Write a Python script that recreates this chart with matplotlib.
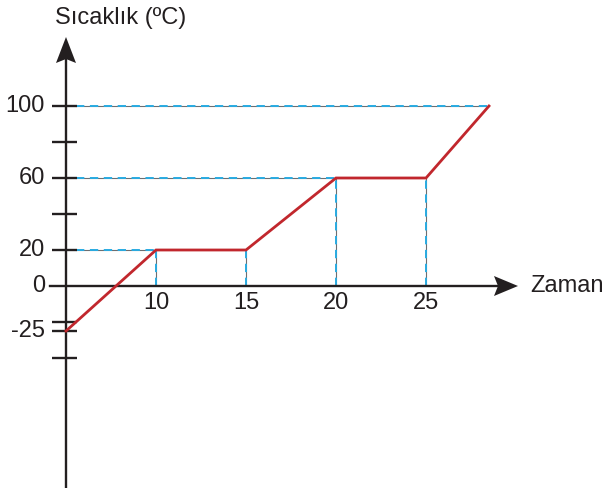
import matplotlib
matplotlib.use("Agg")
import matplotlib.pyplot as plt
from matplotlib.patches import Polygon

plt.rcParams['font.family'] = ['Liberation Sans', 'DejaVu Sans']
plt.rcParams['lines.scale_dashes'] = False

# Heating curve: time vs temperature
time = [5, 10, 15, 20, 25, 28.5]
temp = [-25, 20, 20, 60, 60, 100]
x_tick_labels = [10, 15, 20, 25]
y_tick_labels = [100, 60, 20, 0, -25]
y_plain_ticks = [80, 40, -20, -40]

# layout: pixels per data unit and origin position in the figure
W, H = 606, 488
SX, SY = 18.0, 1.8
ORIGIN_PX = (66, 286)          # pixel position of (t0, 0)
t0 = time[0]

fig = plt.figure(figsize=(W / 100, H / 100), dpi=100)
ax = fig.add_axes([0, 0, 1, 1])
ax.set_xlim(t0 - ORIGIN_PX[0] / SX, t0 + (W - ORIGIN_PX[0]) / SX)
ax.set_ylim(-(H - ORIGIN_PX[1]) / SY, ORIGIN_PX[1] / SY)
ax.axis('off')

def dx(px):
    return px / SX

def dy(px):
    return px / SY

FS = 17
ink = '#231f20'
red = '#c1272d'
cyan = '#29abe2'
grey = '#6d6e71'

def guide(xs, ys):
    ax.plot(xs, ys, color=grey, lw=0.8, zorder=2, solid_capstyle='butt')
    ax.plot(xs, ys, color=cyan, lw=1.4, zorder=3,
            dashes=(6, 4), dash_capstyle='butt')

# horizontal guides from the axis to the first point at each positive level
levels = []
for v in temp:
    if v > 0 and v not in levels:
        levels.append(v)
for v in levels:
    t_first = min(tt for tt, vv in zip(time, temp) if vv == v)
    guide([t0 + dx(10), t_first], [v, v])

# vertical guides down to the time axis
for t in x_tick_labels:
    v = temp[time.index(t)]
    guide([t, t], [0, v])

# axes
yl_top = ax.get_ylim()[1] - dy(37)
xl_right = ax.get_xlim()[0] + dx(518)
ax.plot([t0, t0], [ax.get_ylim()[0], yl_top - dy(20)], color=ink, lw=1.7, zorder=4)
ax.plot([t0 - dx(16), xl_right - dx(20)], [0, 0], color=ink, lw=1.7, zorder=4)

# arrow heads
ax.add_patch(Polygon([(t0, yl_top), (t0 - dx(10), yl_top - dy(26)),
                      (t0, yl_top - dy(22)), (t0 + dx(10), yl_top - dy(26))],
                     closed=True, color=ink, lw=0, zorder=5))
ax.add_patch(Polygon([(xl_right, 0), (xl_right - dx(24), dy(10)),
                      (xl_right - dx(20), 0), (xl_right - dx(24), -dy(10))],
                     closed=True, color=ink, lw=0, zorder=5))

# y ticks
for v in y_tick_labels + y_plain_ticks:
    if v == 0:
        continue
    ax.plot([t0 - dx(14), t0 + dx(11)], [v, v], color=ink, lw=1.7, zorder=4,
            solid_capstyle='butt')
for v in y_tick_labels:
    ax.text(t0 - dx(21), v, str(v), ha='right', va='center', fontsize=FS,
            color=ink)

# x tick labels
for t in x_tick_labels:
    ax.text(t, -dy(17), str(t), ha='center', va='center', fontsize=FS,
            color=ink)

# data line
ax.plot(time, temp, color=red, lw=2.0, zorder=6, solid_joinstyle='miter')

# axis titles
ax.text(xl_right + dx(12), 0, 'Zaman', ha='left', va='center', fontsize=FS,
        color=ink)
ax.text(t0 + dx(55), ax.get_ylim()[1] - dy(18), 'Sıcaklık (ºC)', ha='center',
        va='center', fontsize=FS, color=ink)

fig.savefig('out.png', dpi=100)
